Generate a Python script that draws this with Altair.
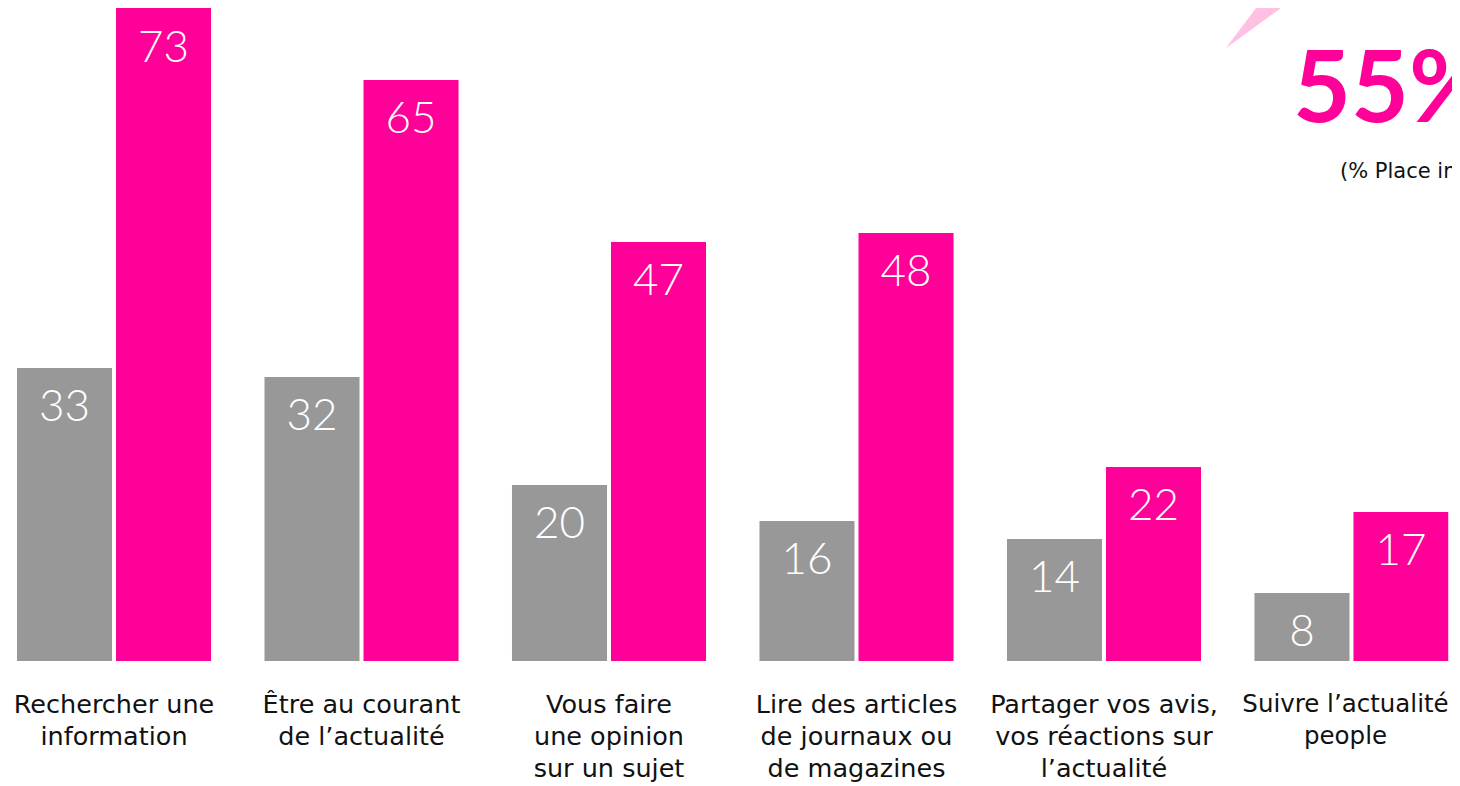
import altair as alt
import pandas as pd

categories = [
    "Rechercher une|information",
    "Être au courant|de l’actualité",
    "Vous faire|une opinion|sur un sujet",
    "Lire des articles|de journaux ou|de magazines",
    "Partager vos avis,|vos réactions sur|l’actualité",
    "Suivre l’actualité|people",
]
series_names = ["Série 1", "Série 2"]
series_1 = [33, 32, 20, 16, 14, 8]
series_2 = [73, 65, 47, 48, 22, 17]
colors = ["#989898", "#FF0099"]

highlight_value = "55%"
highlight_note = "(% Place importante)"

rows = []
for c, a, b in zip(categories, series_1, series_2):
    rows.append({"cat": c, "serie": series_names[0], "val": a})
    rows.append({"cat": c, "serie": series_names[1], "val": b})
df = pd.DataFrame(rows)

FONT = "Lato"
LABEL_FONT = "DejaVu Sans"
last_test = f"datum.value == '{categories[-1]}'"

x_enc = alt.X(
    "cat:N",
    sort=categories,
    scale=alt.Scale(paddingInner=0.216, paddingOuter=0),
    axis=alt.Axis(
        title=None,
        domain=False,
        ticks=False,
        grid=False,
        labelAngle=0,
        labelExpr="split(datum.value, '|')",
        labelFont=LABEL_FONT,
        labelFontSize={"condition": {"test": last_test, "value": 24.5}, "value": 25.5},
        labelLineHeight=32,
        labelColor="#111111",
        labelPadding=31,
        labelLimit=400,
        labelOffset={"condition": {"test": last_test, "value": -6}, "value": 0},
    ),
)
xo_enc = alt.XOffset("serie:N", sort=series_names, scale=alt.Scale(paddingInner=4 / 99, paddingOuter=0))
y_scale = alt.Scale(domain=[0.44, 73], zero=False, nice=False)

base = alt.Chart(df)

bars = base.mark_bar(clip=True).encode(
    x=x_enc,
    xOffset=xo_enc,
    y=alt.Y("val:Q", scale=y_scale, axis=None),
    y2=alt.datum(0),
    color=alt.Color("serie:N", scale=alt.Scale(domain=series_names, range=colors), legend=None),
)

labels = base.mark_text(
    baseline="middle", align="center", dy=40.5, color="white", font=FONT, fontSize=44, fontWeight=300
).encode(
    x=x_enc,
    xOffset=xo_enc,
    y=alt.Y("val:Q", scale=y_scale, axis=None),
    text=alt.Text("val:Q"),
)

deco = pd.DataFrame({"big": [highlight_value], "note": [highlight_note]})

tri = alt.Chart(deco).mark_point(
    shape="M0,0 L1.5,-2 L2.75,-2 Z", filled=True, size=10000, opacity=1, strokeWidth=0, color="#FFC0E4"
).encode(x=alt.value(1209), y=alt.value(40))

big = alt.Chart(deco).mark_text(
    align="left", baseline="alphabetic", font=FONT, fontSize=100, fontWeight="bold", color="#FF0099"
).encode(x=alt.value(1276), y=alt.value(114), text="big:N")

note = alt.Chart(deco).mark_text(
    align="left", baseline="middle", font=LABEL_FONT, fontSize=21, color="#111111"
).encode(x=alt.value(1323), y=alt.value(164), text="note:N")

chart = (
    alt.layer(tri, bars, labels, big, note)
    .properties(
        width=1431.5,
        height=653,
        padding={"left": 9, "top": 0, "right": 3, "bottom": 125},
        autosize=alt.AutoSizeParams(type="none"),
        background="white",
    )
    .configure_view(stroke=None)
)

chart.save("out.html", embed_options={"renderer": "svg", "actions": False})
